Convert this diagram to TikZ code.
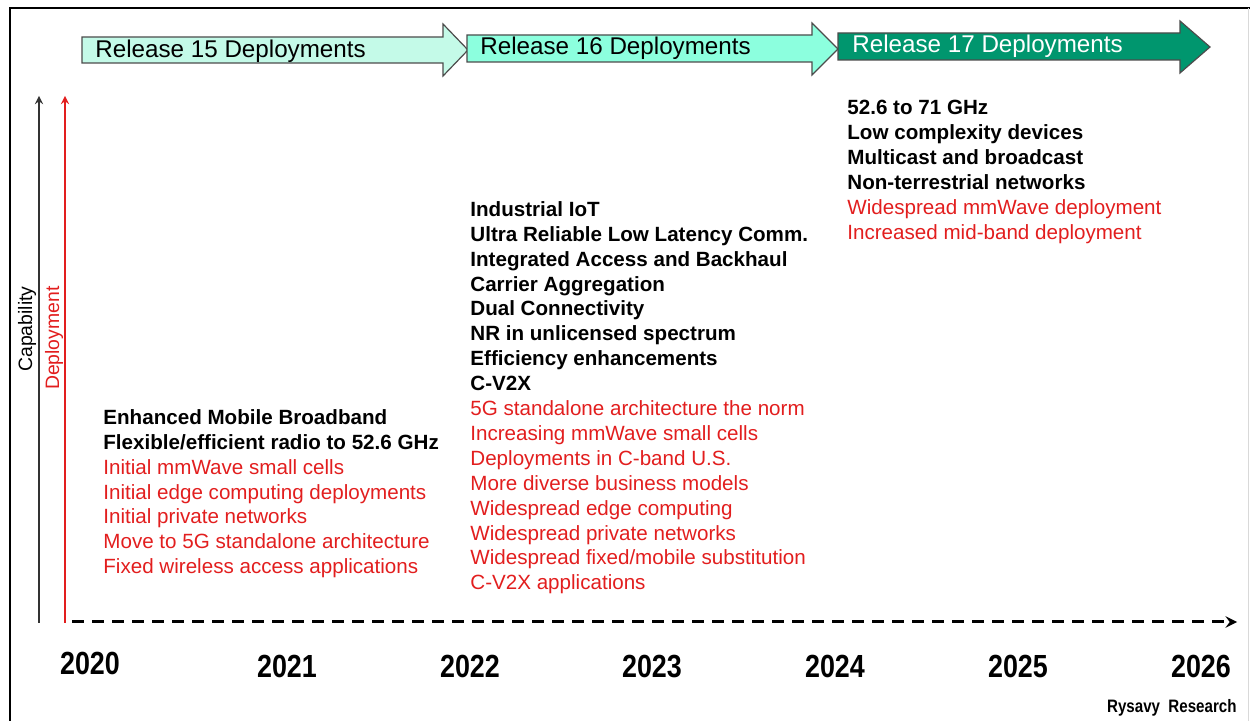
\documentclass[tikz,border=0pt]{standalone}
\usepackage{fontspec}
\setmainfont{Liberation Sans}
\newfontfamily\narrowbold[FakeStretch=0.84]{Liberation Sans Bold}
\usetikzlibrary{positioning}
\definecolor{relred}{RGB}{226,30,30}
\definecolor{relpale}{RGB}{196,250,232}
\definecolor{relaqua}{RGB}{140,255,222}
\definecolor{relgreen}{RGB}{0,150,110}
\newcommand{\capitem}[1]{\textbf{#1}}
\newcommand{\depitem}[1]{\textcolor{relred}{#1}}
\tikzset{relarrow/.style={draw=black!70,line width=0.6pt},
  reltext/.style={anchor=base west,inner sep=0,font=\fontsize{12.1}{14}\selectfont},
  feat/.style={anchor=north west,inner sep=0,align=left,font=\fontsize{10.3}{12.45}\selectfont},
  year/.style={anchor=base,inner sep=0,font=\narrowbold\fontsize{16}{18}\selectfont},
  axislabel/.style={rotate=90,anchor=east,inner sep=0,font=\fontsize{9.7}{11}\selectfont}}

\begin{document}
\begin{tikzpicture}[>=stealth,x=0.5pt,y=-0.5pt]
    \useasboundingbox (0,0) rectangle (1250,721);
    % frame
    \draw[line width=1pt] (10,721) -- (10,8) -- (1250,8);
    \draw[black!15] (1248,8) -- (1248,721);

    % release arrows
    \draw[relarrow,fill=relpale] (82,37) -- (443,37) -- (443,24) -- (468,50) -- (443,76) -- (443,63) -- (82,63) -- cycle;
    \draw[relarrow,fill=relaqua] (467,35) -- (812,35) -- (812,23) -- (838,49) -- (812,75) -- (812,62) -- (467,62) -- cycle;
    \draw[relarrow,fill=relgreen] (838,33) -- (1180,33) -- (1180,21) -- (1210,47) -- (1180,73) -- (1180,60) -- (838,60) -- cycle;
    \node[reltext] (r15) at (95,58) {Release 15 Deployments};
    \node[reltext] (r16) at (480,55) {Release 16 Deployments};
    \node[reltext,text=white] (r17) at (852,53) {Release 17 Deployments};

    % axes
    \coordinate (capbot) at (39,623);
    \coordinate (captop) at (39,96);
    \coordinate (depbot) at (65,623);
    \coordinate (deptop) at (65,96);
    \draw[->,black!80,line width=0.8pt] (capbot) -- (captop);
    \draw[->,relred,line width=0.8pt] (depbot) -- (deptop);
    \node[axislabel] (cap) at (27,286) {Capability};
    \node[axislabel,text=relred] (dep) at (54,286) {Deployment};

    \coordinate (t0) at (72,622);
    \coordinate (tend) at (1237,622);
    \draw[->,line width=1.5pt,dash pattern=on 6pt off 4pt] (t0) -- (tend);

    % years
    \node[year] (y20) at (90,675) {2020};
    \node[year] (y21) at (287,678) {2021};
    \node[year] (y22) at (470,678) {2022};
    \node[year] (y23) at (652,678) {2023};
    \node[year] (y24) at (835,678) {2024};
    \node[year] (y25) at (1018,678) {2025};
    \node[year] (y26) at (1201,678) {2026};

    % features
    \node[feat] (f15) at (103,409) {\capitem{Enhanced Mobile Broadband}\\
        \capitem{Flexible/efficient radio to 52.6 GHz}\\
        \depitem{Initial mmWave small cells}\\
        \depitem{Initial edge computing deployments}\\
        \depitem{Initial private networks}\\
        \depitem{Move to 5G standalone architecture}\\
        \depitem{Fixed wireless access applications}};
    \node[feat] (f16) at (470,201) {\capitem{Industrial IoT}\\
        \capitem{Ultra Reliable Low Latency Comm.}\\
        \capitem{Integrated Access and Backhaul}\\
        \capitem{Carrier Aggregation}\\
        \capitem{Dual Connectivity}\\
        \capitem{NR in unlicensed spectrum}\\
        \capitem{Efficiency enhancements}\\
        \capitem{C-V2X}\\
        \depitem{5G standalone architecture the norm}\\
        \depitem{Increasing mmWave small cells}\\
        \depitem{Deployments in C-band U.S.}\\
        \depitem{More diverse business models}\\
        \depitem{Widespread edge computing}\\
        \depitem{Widespread private networks}\\
        \depitem{Widespread fixed/mobile substitution}\\
        \depitem{C-V2X applications}};
    \node[feat] (f17) at (847,100) {\capitem{52.6 to 71 GHz}\\
        \capitem{Low complexity devices}\\
        \capitem{Multicast and broadcast}\\
        \capitem{Non-terrestrial networks}\\
        \depitem{Widespread mmWave deployment}\\
        \depitem{Increased mid-band deployment}};

    \node[anchor=base east,inner sep=0,font=\narrowbold\fontsize{9}{11}\selectfont] (src) at (1237,713) {Rysavy\ \ Research};
\end{tikzpicture}
\end{document}
